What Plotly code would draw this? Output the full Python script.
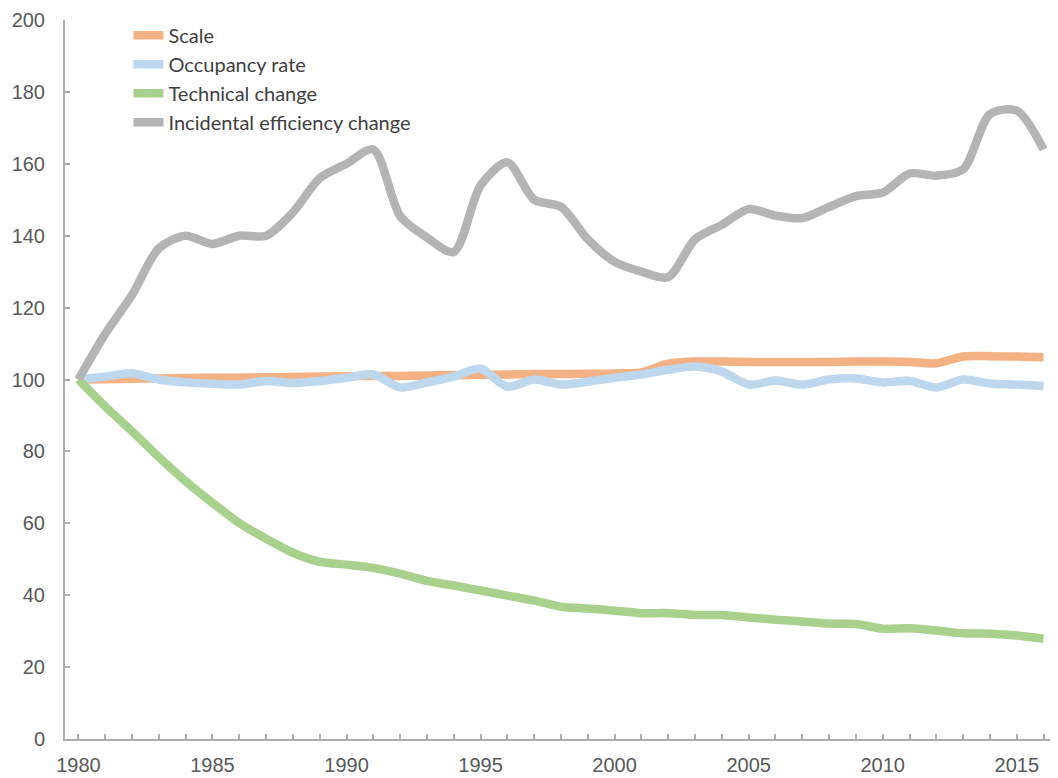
import plotly.graph_objects as go

years = list(range(1980, 2017))

scale = [100, 100.1, 100.2, 100.3, 100.4, 100.5, 100.5, 100.6, 100.7, 100.8,
         100.9, 101.0, 101.0, 101.1, 101.2, 101.3, 101.4, 101.5, 101.5, 101.6,
         101.7, 102.0, 104.4, 105.0, 105.0, 104.9, 104.9, 104.9, 104.9, 105.0,
         105.0, 104.9, 104.5, 106.4, 106.5, 106.4, 106.2]

occupancy = [100, 100.8, 101.7, 100.0, 99.2, 98.8, 98.6, 99.6, 99.0, 99.6,
             100.5, 101.4, 97.8, 99.2, 100.8, 103.0, 98.0, 100.0, 98.6, 99.4,
             100.5, 101.4, 102.7, 103.6, 102.2, 98.6, 99.7, 98.6, 100.0, 100.3,
             99.2, 99.6, 97.8, 100.0, 98.9, 98.6, 98.2]

technical = [100, 92.5, 85.6, 78.4, 71.7, 65.7, 60.1, 55.7, 51.8, 49.3,
             48.5, 47.6, 46.0, 44.0, 42.7, 41.3, 39.9, 38.5, 36.8, 36.3,
             35.7, 35.0, 35.0, 34.5, 34.5, 33.8, 33.2, 32.7, 32.1, 32.0,
             30.7, 30.8, 30.2, 29.4, 29.3, 28.8, 27.9]

incidental = [100, 112.7, 123.5, 136.5, 140.0, 137.7, 140.0, 140.0, 146.5, 156.0,
              160.0, 164.0, 145.5, 139.5, 135.5, 154.0, 160.4, 150.0, 148.0, 139.0,
              132.7, 130.0, 128.5, 139.0, 143.0, 147.4, 145.6, 144.9, 148.0, 151.0,
              152.0, 157.3, 156.7, 158.5, 173.8, 174.8, 164.0]

series = [
    ("Scale", scale, "#F4B183"),
    ("Occupancy rate", occupancy, "#BDD7EE"),
    ("Technical change", technical, "#A9D18E"),
    ("Incidental efficiency change", incidental, "#B4B4B4"),
]

fig = go.Figure()
for name, vals, color in series:
    fig.add_trace(go.Scatter(
        x=years, y=vals, name=name, mode="lines",
        line=dict(color=color, width=8.5, shape="spline", smoothing=0.8),
    ))

axis_color = "#ADADAD"
tick_font = dict(family="Liberation Sans, Arial, sans-serif", size=20, color="#595959")

fig.update_layout(
    width=1058, height=778,
    margin=dict(l=57, r=9, t=8, b=47),
    paper_bgcolor="white", plot_bgcolor="white",
    showlegend=True,
    legend=dict(
        x=0.064, y=1.006, xanchor="left", yanchor="top",
        bgcolor="rgba(0,0,0,0)",
        font=dict(family="Lato, sans-serif", size=20, color="#404040"),
        tracegroupgap=0, itemwidth=30,
    ),
    xaxis=dict(
        range=[1979.5, 2016.5],
        tickmode="linear", tick0=1980, dtick=5,
        ticks="inside", ticklen=5, tickcolor=axis_color, tickwidth=1.5,
        minor=dict(dtick=1, tick0=1980, ticks="inside", ticklen=5,
                   tickcolor=axis_color, tickwidth=1.5, showgrid=False),
        showline=True, linecolor=axis_color, linewidth=2,
        showgrid=False, zeroline=False, automargin=False,
        tickfont=tick_font, ticklabelstandoff=7,
    ),
    yaxis=dict(
        range=[0, 200], tickmode="linear", tick0=0, dtick=20,
        ticks="inside", ticklen=5, tickcolor=axis_color, tickwidth=1.5,
        showline=True, linecolor=axis_color, linewidth=2,
        showgrid=False, zeroline=False, automargin=False,
        tickfont=tick_font, ticklabelstandoff=14,
    ),
)

fig.write_html("out.html")
